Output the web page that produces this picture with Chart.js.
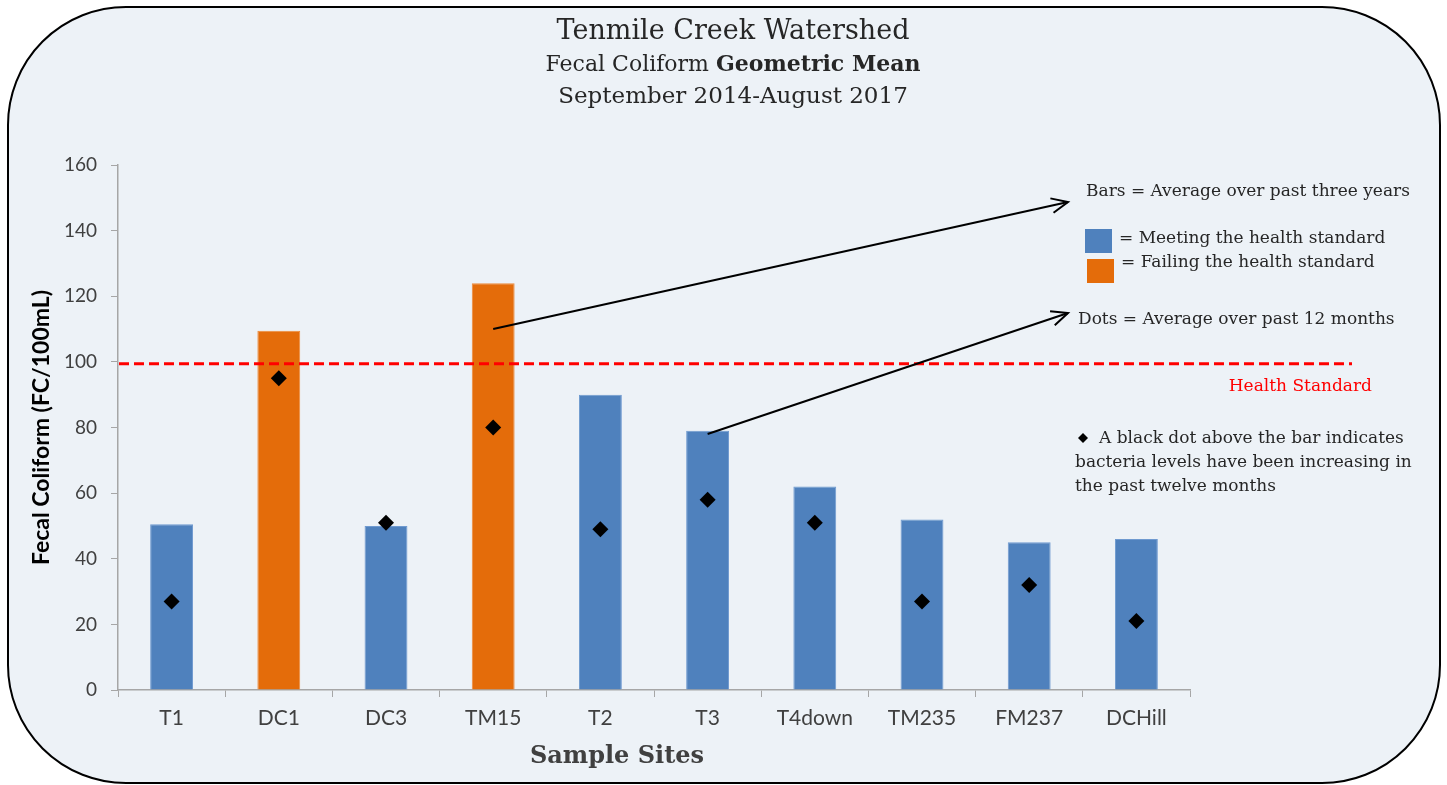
<!DOCTYPE html>
<html><head><meta charset="utf-8">
<script src="https://cdn.jsdelivr.net/npm/chart.js@4/dist/chart.umd.min.js"></script>
<style>html,body{margin:0;padding:0;background:#fff;overflow:hidden}
#wrap{position:absolute;left:0;top:0;width:1447px;height:785px}</style>
</head><body><div id="wrap"><canvas id="c" width="1447" height="785"></canvas></div>
<script>
// ---- data ----
const sites = ['T1','DC1','DC3','TM15','T2','T3','T4down','TM235','FM237','DCHill'];
const threeYearAverage = [50.5,109.5,50,124,90,79,62,52,45,46];
const twelveMonthAverage = [27,95,51,80,49,58,51,27,32,21];
const healthStandard = 99.4;
const yTickMin = 0, yTickMax = 160, yTickStep = 20;
const titleLines = ['Tenmile Creek Watershed', 'Fecal Coliform ', 'Geometric Mean', 'September 2014-August 2017'];

const BLUE = '#4f81bd', ORANGE = '#e46c0a';
const SERIF = '"DejaVu Serif", serif';
const SANS = 'Lato, "Open Sans", sans-serif';
const barColors = threeYearAverage.map(v => v > healthStandard ? ORANGE : BLUE);

function arrow(ctx, x1, y1, x2, y2) {
  ctx.save();
  ctx.strokeStyle = '#000'; ctx.lineWidth = 2;
  ctx.beginPath(); ctx.moveTo(x1, y1); ctx.lineTo(x2, y2); ctx.stroke();
  const a = Math.atan2(y2 - y1, x2 - x1), L = 18, s = 0.42;
  ctx.beginPath();
  ctx.moveTo(x2 - L * Math.cos(a - s), y2 - L * Math.sin(a - s));
  ctx.lineTo(x2, y2);
  ctx.lineTo(x2 - L * Math.cos(a + s), y2 - L * Math.sin(a + s));
  ctx.stroke();
  ctx.restore();
}

const decor = {
  id: 'decor',
  beforeDraw(chart) {
    const ctx = chart.ctx;
    ctx.save();
    ctx.beginPath();
    ctx.roundRect(8, 7, 1432, 776, 118);
    ctx.fillStyle = '#edf2f7';
    ctx.fill();
    ctx.lineWidth = 2; ctx.strokeStyle = '#000';
    ctx.stroke();
    ctx.restore();
  },
  afterDatasetsDraw(chart) {
    const ctx = chart.ctx, xs = chart.scales.x, ys = chart.scales.y;
    ctx.save();
    const hy = ys.getPixelForValue(healthStandard);
    ctx.strokeStyle = '#ff0000'; ctx.lineWidth = 3; ctx.setLineDash([10, 5]);
    ctx.beginPath(); ctx.moveTo(chart.chartArea.left + 1, hy); ctx.lineTo(1352, hy); ctx.stroke();
    ctx.setLineDash([]);
    arrow(ctx, xs.getPixelForValue(3), ys.getPixelForValue(110), 1068, 202);
    arrow(ctx, xs.getPixelForValue(5), ys.getPixelForValue(78), 1068, 313);
    ctx.restore();
  },
  afterDraw(chart) {
    const ctx = chart.ctx;
    ctx.save();
    ctx.textBaseline = 'middle';
    ctx.fillStyle = '#262626';
    ctx.textAlign = 'center';
    ctx.font = '27px ' + SERIF;
    ctx.fillText(titleLines[0], 733, 32);
    ctx.font = '22px ' + SERIF;
    const w1 = ctx.measureText(titleLines[1]).width;
    ctx.font = 'bold 22px ' + SERIF;
    const w2 = ctx.measureText(titleLines[2]).width;
    let sx = 733 - (w1 + w2) / 2;
    ctx.textAlign = 'left';
    ctx.font = '22px ' + SERIF;
    ctx.fillText(titleLines[1], sx, 65);
    ctx.font = 'bold 22px ' + SERIF;
    ctx.fillText(titleLines[2], sx + w1, 65);
    ctx.textAlign = 'center';
    ctx.font = '23px ' + SERIF;
    ctx.fillText(titleLines[3], 733, 97);
    ctx.fillStyle = '#404040';
    ctx.font = 'bold 24px ' + SERIF;
    ctx.fillText('Sample Sites', 617, 757);
    ctx.fillStyle = '#262626';
    ctx.textAlign = 'left';
    ctx.font = '17px ' + SERIF;
    ctx.fillText('Bars = Average over past three years', 1086, 192);
    ctx.fillText('= Meeting the health standard', 1119, 239);
    ctx.fillText('= Failing the health standard', 1121, 263);
    ctx.fillText('Dots = Average over past 12 months', 1078, 320);
    ctx.fillText('A black dot above the bar indicates', 1099, 439);
    ctx.fillText('bacteria levels have been increasing in', 1075, 463);
    ctx.fillText('the past twelve months', 1075, 487);
    ctx.fillStyle = '#ff0000';
    ctx.textAlign = 'right';
    ctx.fillText('Health Standard', 1372, 387);
    ctx.fillStyle = BLUE; ctx.fillRect(1085, 229, 27, 24);
    ctx.fillStyle = ORANGE; ctx.fillRect(1087, 259, 27, 24);
    ctx.fillStyle = '#000';
    ctx.beginPath();
    ctx.moveTo(1083, 433); ctx.lineTo(1088, 438); ctx.lineTo(1083, 443); ctx.lineTo(1078, 438);
    ctx.closePath(); ctx.fill();
    ctx.restore();
  }
};

new Chart(document.getElementById('c'), {
  data: {
    labels: sites,
    datasets: [
      { type: 'line', label: 'Average over past 12 months', data: twelveMonthAverage,
        showLine: false, pointStyle: 'rectRot', pointRadius: 8, pointHoverRadius: 8,
        backgroundColor: '#000', borderColor: '#000', borderWidth: 0, order: 0 },
      { type: 'bar', label: 'Average over past three years', data: threeYearAverage,
        backgroundColor: barColors, borderColor: barColors.map(c => c === BLUE ? '#6f9ad0' : '#ee8a3a'),
        borderWidth: 1, barPercentage: 0.4, categoryPercentage: 1.0, order: 1 }
    ]
  },
  options: {
    responsive: false, devicePixelRatio: 1, animation: false,
    layout: { padding: { left: 20, right: 257, top: 165, bottom: 0 } },
    plugins: { legend: { display: false }, tooltip: { enabled: false }, title: { display: false } },
    scales: {
      x: {
        afterFit(s) { s.height = 95; },
        grid: { drawOnChartArea: false, drawTicks: true, tickLength: 7, color: '#a6a6a6', offset: true },
        border: { color: '#a6a6a6', width: 1.5 },
        ticks: { color: '#404040', font: { family: SANS, size: 21 }, padding: 9 }
      },
      y: {
        min: yTickMin, max: yTickMax,
        afterFit(s) { s.width = 98; },
        grid: { drawOnChartArea: false, drawTicks: true, tickLength: 7, color: '#a6a6a6' },
        border: { color: '#a6a6a6', width: 1.5 },
        ticks: { stepSize: yTickStep, color: '#404040', font: { family: SANS, size: 19 }, padding: 14 },
        title: { display: true, text: 'Fecal Coliform (FC/100mL)', color: '#000',
          font: { family: SANS, size: 23, weight: 'bold' }, padding: { top: 8, bottom: 0 } }
      }
    }
  },
  plugins: [decor]
});
</script></body></html>
